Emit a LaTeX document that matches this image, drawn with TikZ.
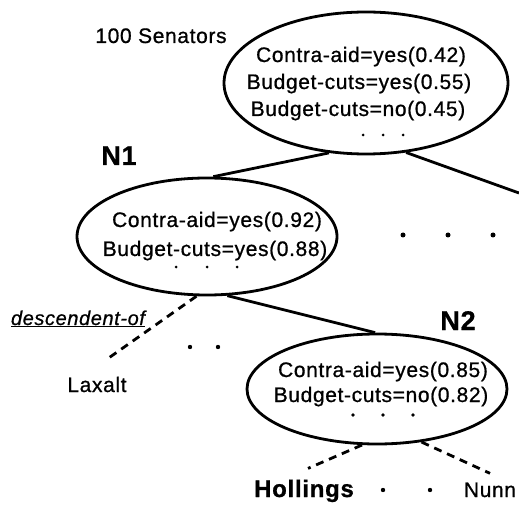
\documentclass[tikz,border=0pt]{standalone}
\usepackage{fontspec}
\usetikzlibrary{shapes.geometric}
\newfontfamily\figfont[LetterSpace=3,FakeBold=0.8]{Liberation Sans}
\tikzset{
	cluster/.style={draw=black,ellipse,line width=2.8pt,inner sep=0pt},
	attr/.style={font=\figfont\fontsize{21}{25}\selectfont,inner sep=0pt,anchor=base},
	tag/.style={font=\figfont\bfseries\fontsize{27}{30}\selectfont,inner sep=0pt,anchor=base},
	link/.style={line width=2.8pt},
	desc/.style={line width=2.8pt,dash pattern=on 8pt off 6pt},
}

\begin{document}
\begin{tikzpicture}[x=1pt,y=1pt]
		\useasboundingbox (0,0) rectangle (519,504);

		% root cluster
		\node[cluster,minimum width=284pt,minimum height=142pt] (root) at (366,421) {};
		\node[attr] (senators) at (161,461) {100 Senators};
		\node[attr] (r1) at (361,442) {Contra-aid=yes(0.42)};
		\node[attr] (r2) at (359,415) {Budget-cuts=yes(0.55)};
		\node[attr] (r3) at (358,388) {Budget-cuts=no(0.45)};
		\fill (363,369) circle (1.5);
		\fill (383,369) circle (1.5);
		\fill (403,369) circle (1.5);

		% cluster N1
		\node[cluster,minimum width=260pt,minimum height=117pt] (n1) at (207,267.5) {};
		\node[tag] (n1tag) at (119,339) {N1};
		\node[attr] (a1) at (217,277) {Contra-aid=yes(0.92)};
		\node[attr] (a2) at (215,248) {Budget-cuts=yes(0.88)};
		\fill (176,237) circle (1.5);
		\fill (207,237) circle (1.5);
		\fill (237,237) circle (1.5);

		% siblings of N1
		\fill (403,269) circle (2.5);
		\fill (448,269) circle (2.5);
		\fill (493,269) circle (2.5);

		% cluster N2
		\node[cluster,minimum width=260pt,minimum height=110pt] (n2) at (377,115) {};
		\node[tag] (n2tag) at (458,174) {N2};
		\node[attr] (b1) at (383,127) {Contra-aid=yes(0.85)};
		\node[attr] (b2) at (381,102) {Budget-cuts=no(0.82)};
		\fill (353,89) circle (1.8);
		\fill (383,89) circle (1.8);
		\fill (413,89) circle (1.8);

		% senators
		\node[attr] (laxalt) at (97,112) {Laxalt};
		\node[attr,font=\figfont\bfseries\fontsize{24}{28}\selectfont] (hollings) at (304,7) {Hollings};
		\node[attr] (nunn) at (490,7) {Nunn};
		\node[attr,font=\figfont\itshape\fontsize{20}{24}\selectfont] (desclabel) at (78,179) {\underline{descendent-of}};
		\fill (190,157) circle (2.2);
		\fill (218,157) circle (2.2);
		\fill (383,14) circle (2.2);
		\fill (430,14) circle (2.2);

		% tree links
		\coordinate (offpage) at (519,311);
		\draw[link] (root.242) -- (n1.84);
		\draw[link] (root.300) -- (offpage);
		\draw[link] (n1.289) -- (n2.92);

		% descendent-of links
		\draw[desc] (n1.260) -- ([xshift=8pt,yshift=16pt]laxalt.north);
		\draw[desc] (n2.255) -- ([xshift=4pt,yshift=11pt]hollings.north);
		\draw[desc] (n2.310) -- ([yshift=9pt]nunn.north);

	\end{tikzpicture}
\end{document}
